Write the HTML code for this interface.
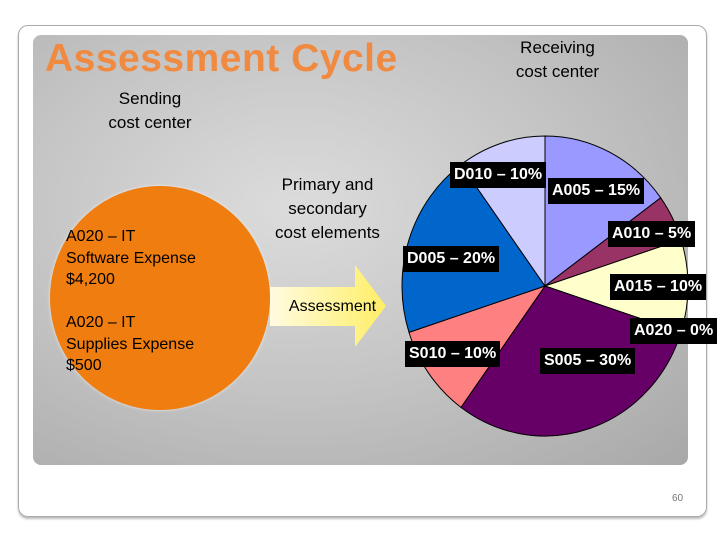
<!DOCTYPE html>
<html><head><meta charset="utf-8"><style>
body{margin:0;width:720px;height:540px;background:#fff;overflow:hidden;font-family:"Liberation Sans",sans-serif;position:relative}
.t{position:absolute;text-align:center;color:#000;font-size:17px;line-height:24px}
</style></head><body>
<div style="position:absolute;left:18px;top:25px;width:687px;height:490px;border:1px solid #aaa;border-radius:10px;box-shadow:0 2px 2px #bbb"></div>
<div style="position:absolute;left:33px;top:35px;width:655px;height:430px;border-radius:8px;background:radial-gradient(ellipse at 40% 40%,#dcdcdc 0%,#c4c4c4 50%,#a8a8a8 100%)"></div>
<div style="position:absolute;left:45px;top:37px;font-size:39px;font-weight:bold;color:#f08a40;letter-spacing:0.5px">Assessment Cycle</div>
<div class="t" style="left:490px;top:36px;width:135px">Receiving<br>cost center</div>
<div class="t" style="left:85px;top:87px;width:130px">Sending<br>cost center</div>
<div style="position:absolute;left:50px;top:186px;width:220px;height:224px;border-radius:50%;background:#ef7d0f;box-shadow:0 0 3px #eee"></div>
<div style="position:absolute;left:66px;top:226px;font-size:16px;line-height:21.5px">A020 – IT<br>Software Expense<br>$4,200<br><br>A020 – IT<br>Supplies Expense<br>$500</div>
<div class="t" style="left:255px;top:173px;width:145px">Primary and<br>secondary<br>cost elements</div>
<svg style="position:absolute;left:0;top:0" width="720" height="540">
<defs><linearGradient id="ag" x1="0" x2="1"><stop offset="0" stop-color="#fffbe0"/><stop offset="1" stop-color="#ffee66"/></linearGradient></defs>
<polygon points="270,287 355,287 355,265 386,306 355,347 355,326 270,326" fill="url(#ag)"/>
</svg>
<div class="t" style="left:280px;top:295px;width:105px;font-size:16px">Assessment</div>
<svg id="pie" style="position:absolute;left:0;top:0" width="720" height="540"></svg>
<div style="position:absolute;left:672px;top:493px;font-size:10px;color:#777">60</div>
<script>
const categories=["A005","A010","A015","A020","S005","S010","D005","D010"];
const shares=[15,5,10,0,30,10,20,10];
const colors=["#9999ff","#993366","#ffffcc","#ffffff","#660066","#ff8080","#0066cc","#ccccff"];
const labelPos=[[548,178],[608,221],[610,274],[630,318],[540,348],[405,341],[403,246],[450,162]];
const cx=545,cy=286,rx=143,ry=150;
const svg=document.getElementById('pie');const NS='http://www.w3.org/2000/svg';
const total=shares.reduce((a,b)=>a+b,0);
function pt(a){return [cx+rx*Math.sin(a),cy-ry*Math.cos(a)];}
let acc=0;
shares.forEach((v,i)=>{
 const a0=acc/total*2*Math.PI;acc+=v;const a1=acc/total*2*Math.PI;
 if(v<=0)return;
 const p0=pt(a0),p1=pt(a1);const large=(a1-a0)>Math.PI?1:0;
 const p=document.createElementNS(NS,'path');
 p.setAttribute('d',`M${cx},${cy}L${p0[0]},${p0[1]}A${rx},${ry} 0 ${large} 1 ${p1[0]},${p1[1]}Z`);
 p.setAttribute('fill',colors[i]);p.setAttribute('stroke','#000');p.setAttribute('stroke-width','1');
 
 
 svg.appendChild(p);
});
shares.forEach((v,i)=>{
 const d=document.createElement('div');
 d.textContent=categories[i]+' – '+v+'%';
 d.style.cssText=`position:absolute;left:${labelPos[i][0]}px;top:${labelPos[i][1]}px;background:#000;color:#fff;font-weight:bold;font-size:16px;line-height:20px;padding:3px 4px;`;
 
 
 document.body.appendChild(d);
});
</script>
</body></html>
